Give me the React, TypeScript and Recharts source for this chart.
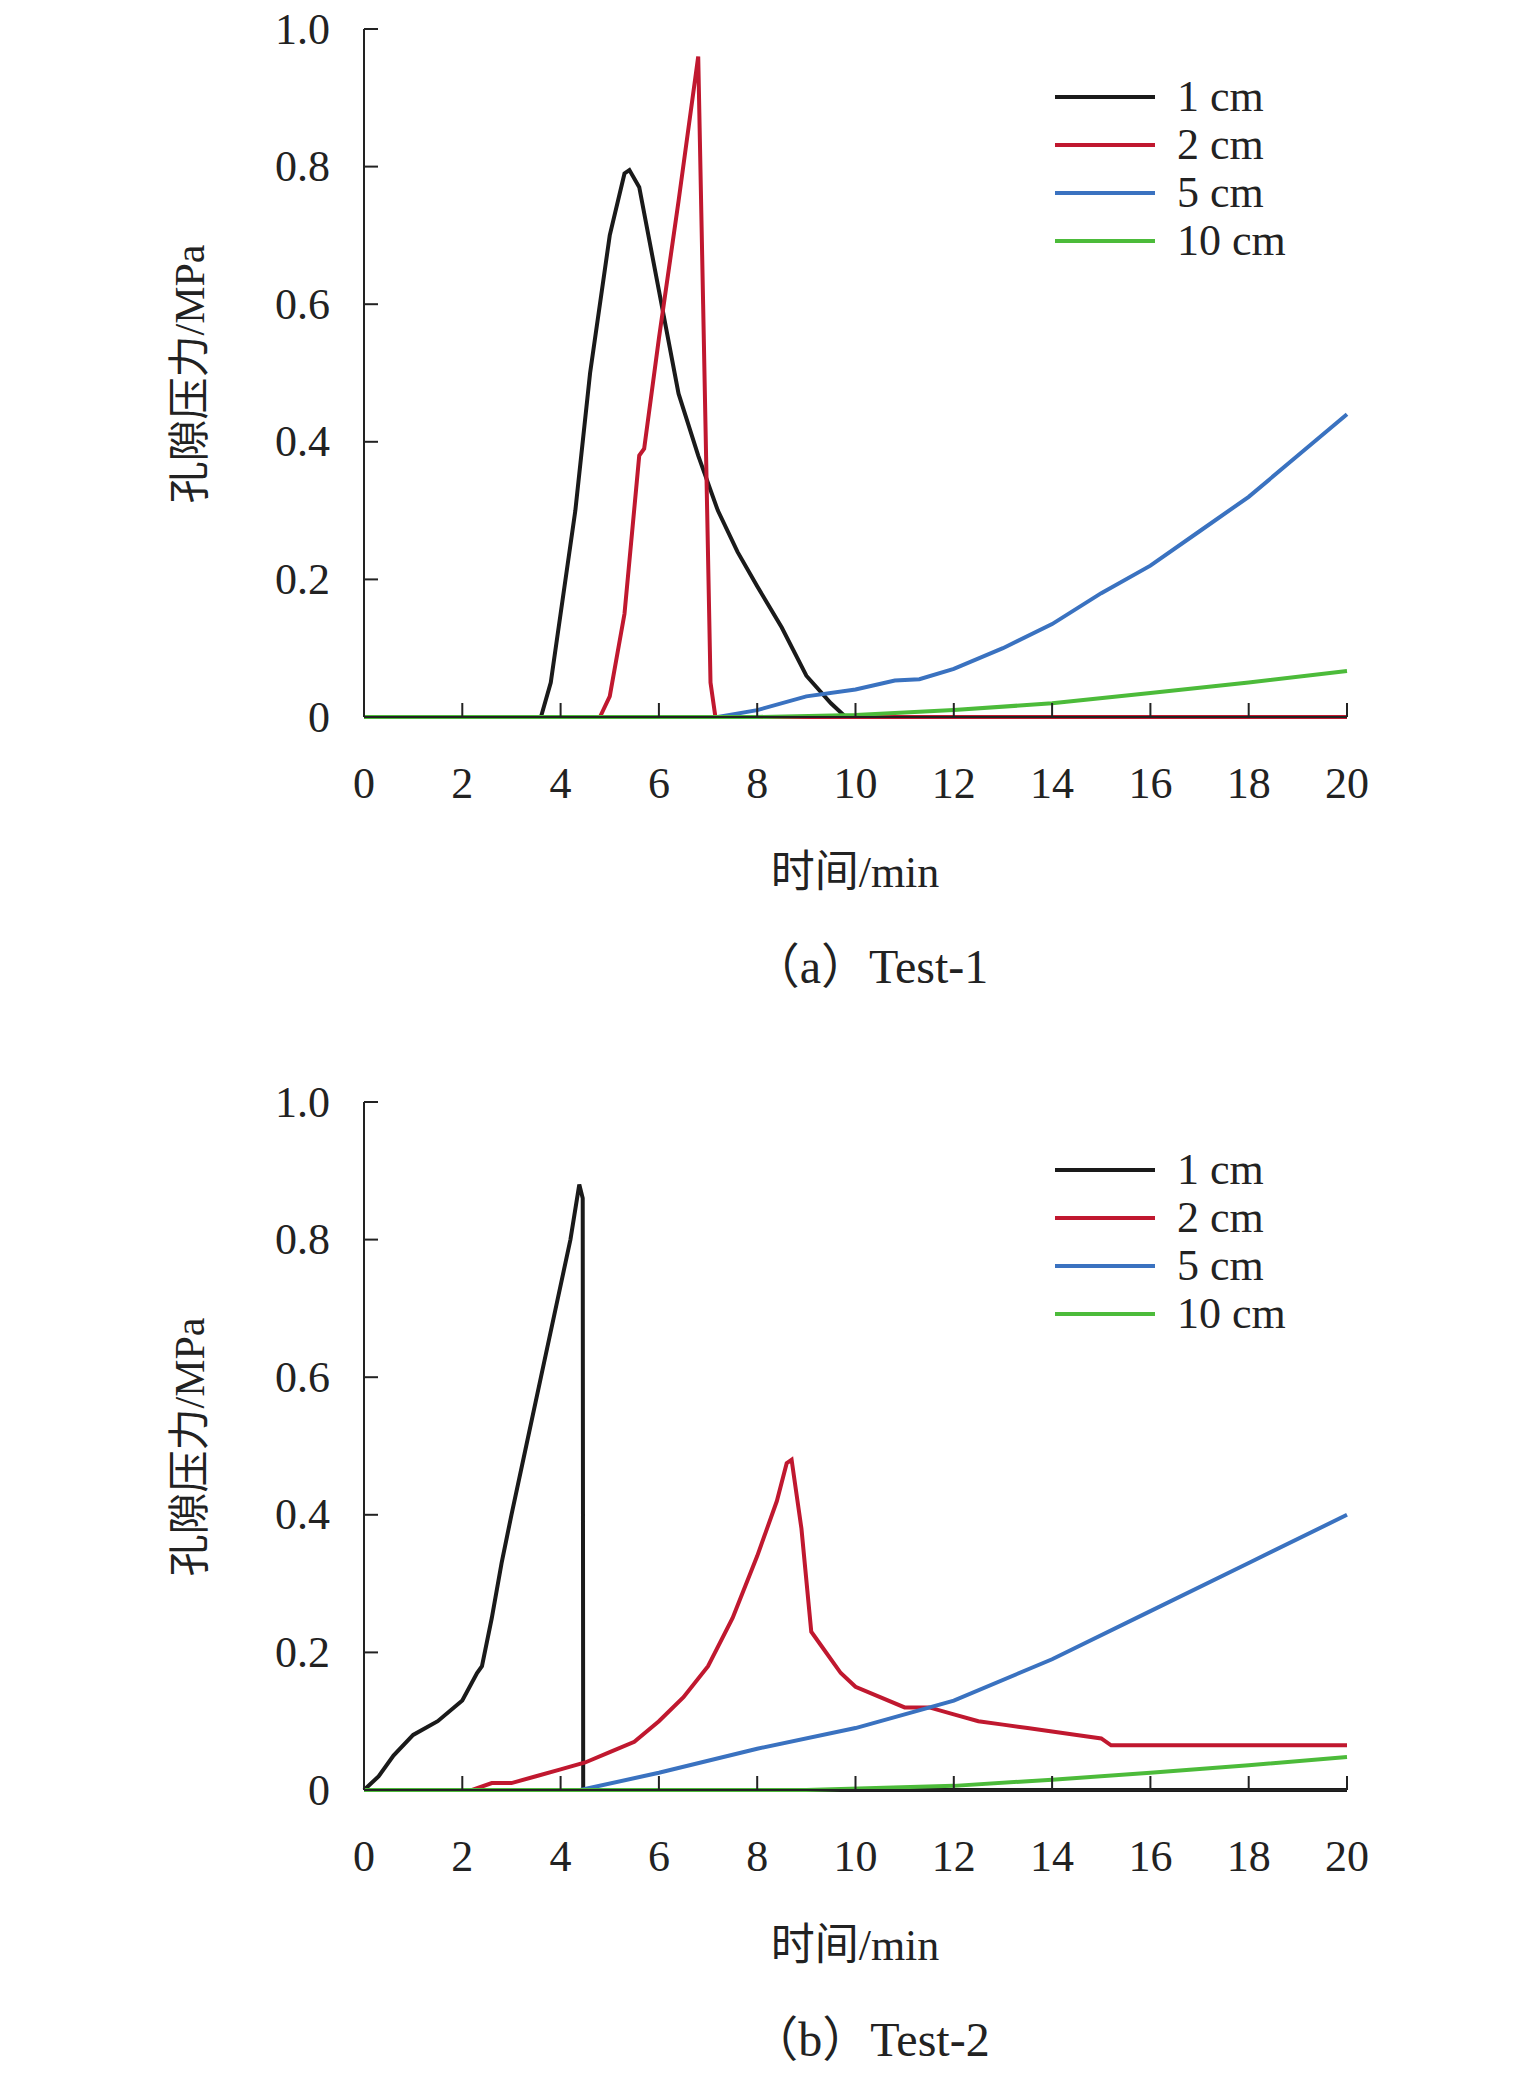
import React from "react";
import { LineChart, Line, XAxis, YAxis } from "recharts";

type P = { t: number; p: number };
const pts = (a: number[][]): P[] => a.map(([t, p]) => ({ t, p }));

const X_TICKS = [0, 2, 4, 6, 8, 10, 12, 14, 16, 18, 20];
const Y_TICKS = [0, 0.2, 0.4, 0.6, 0.8, 1.0];
const SERIES_NAMES = ["1 cm", "2 cm", "5 cm", "10 cm"];
const COLORS = ["#1a1a1a", "#c0182f", "#3a72c0", "#4cbb3a"];

const T1_1CM = pts([[0, 0], [3.6, 0], [3.8, 0.05], [4.0, 0.15], [4.3, 0.3], [4.6, 0.5], [5.0, 0.7], [5.3, 0.79], [5.4, 0.795], [5.6, 0.77], [6.0, 0.62], [6.4, 0.47], [6.8, 0.38], [7.2, 0.3], [7.6, 0.24], [8.0, 0.19], [8.5, 0.13], [9.0, 0.06], [9.5, 0.02], [9.8, 0], [20, 0]]);
const T1_2CM = pts([[0, 0], [4.8, 0], [5.0, 0.03], [5.3, 0.15], [5.6, 0.38], [5.7, 0.39], [6.0, 0.55], [6.4, 0.75], [6.8, 0.96], [6.9, 0.6], [7.05, 0.05], [7.15, 0], [20, 0]]);
const T1_5CM = pts([[0, 0], [7.2, 0], [8, 0.01], [9, 0.03], [10, 0.04], [10.8, 0.053], [11.3, 0.055], [12, 0.07], [13, 0.1], [14, 0.135], [15, 0.18], [16, 0.22], [17, 0.27], [18, 0.32], [19, 0.38], [20, 0.44]]);
const T1_10CM = pts([[0, 0], [8, 0], [10, 0.003], [12, 0.01], [14, 0.02], [16, 0.035], [18, 0.05], [20, 0.067]]);

const T2_1CM = pts([[0, 0], [0.3, 0.02], [0.6, 0.05], [1, 0.08], [1.5, 0.1], [2, 0.13], [2.3, 0.17], [2.4, 0.18], [2.6, 0.25], [2.8, 0.33], [3, 0.4], [3.3, 0.5], [3.6, 0.6], [3.9, 0.7], [4.2, 0.8], [4.38, 0.88], [4.45, 0.86], [4.46, 0], [20, 0]]);
const T2_2CM = pts([[0, 0], [2.2, 0], [2.6, 0.01], [3, 0.01], [3.5, 0.02], [4, 0.03], [4.5, 0.04], [5, 0.055], [5.5, 0.07], [6, 0.1], [6.5, 0.135], [7, 0.18], [7.5, 0.25], [8, 0.34], [8.4, 0.42], [8.6, 0.475], [8.7, 0.48], [8.9, 0.38], [9.1, 0.23], [9.3, 0.21], [9.7, 0.17], [10, 0.15], [10.5, 0.135], [11, 0.12], [11.5, 0.12], [12, 0.11], [12.5, 0.1], [13, 0.095], [13.5, 0.09], [14, 0.085], [14.5, 0.08], [15, 0.075], [15.2, 0.065], [20, 0.065]]);
const T2_5CM = pts([[0, 0], [4.4, 0], [6, 0.025], [8, 0.06], [10, 0.09], [12, 0.13], [14, 0.19], [16, 0.26], [18, 0.33], [20, 0.4]]);
const T2_10CM = pts([[0, 0], [9, 0], [12, 0.006], [14, 0.015], [16, 0.025], [18, 0.036], [20, 0.048]]);

const FONT = "'Liberation Serif', 'Times New Roman', 'Noto Sans CJK SC', serif";

const XTick = (props: any) => {
  const { x, y, payload } = props;
  return (
    <g>
      <line x1={x} x2={x} y1={y} y2={y - 14} stroke="#222" strokeWidth={2} />
      <text x={x} y={y + 66} textAnchor="middle" dominantBaseline="central" fontSize={44} fontFamily={FONT} fill="#222">
        {payload.value}
      </text>
    </g>
  );
};

const YTick = (props: any) => {
  const { x, y, payload } = props;
  const v = payload.value === 0 ? "0" : Number(payload.value).toFixed(1);
  return (
    <g>
      <line x1={x} x2={x + 14} y1={y} y2={y} stroke="#222" strokeWidth={2} />
      <text x={x - 34} y={y} textAnchor="end" dominantBaseline="central" fontSize={44} fontFamily={FONT} fill="#222">
        {v}
      </text>
    </g>
  );
};

function Panel({ series, top, marginTop, caption }: { series: P[][]; top: number; marginTop: number; caption: string }) {
  const H = 1038;
  const plotBottom = H - 321 + (marginTop - 29);
  const AXH = 40;
  return (
    <div style={{ position: "absolute", left: 0, top, width: 1535, height: H }}>
      <LineChart width={1535} height={H} margin={{ top: marginTop, right: 188, bottom: H - plotBottom - AXH, left: 0 }}>
        <XAxis dataKey="t" type="number" domain={[0, 20]} ticks={X_TICKS} interval={0} tick={<XTick />} tickLine={false} tickSize={0} tickMargin={0} stroke="#222" strokeWidth={2} height={AXH} />
        <YAxis type="number" domain={[0, 1]} ticks={Y_TICKS} interval={0} tick={<YTick />} tickLine={false} tickSize={0} tickMargin={0} stroke="#222" strokeWidth={2} width={364} />
        {series.map((d, i) => (
          <Line key={i} data={d} dataKey="p" stroke={COLORS[i]} strokeWidth={4} dot={false} isAnimationActive={false} type="linear" />
        ))}
      </LineChart>
      <div style={{ position: "absolute", left: 185, top: marginTop + 345, transform: "translate(-50%,-50%) rotate(-90deg)", whiteSpace: "nowrap", fontSize: 42, fontFamily: FONT, color: "#222" }}>
        孔隙压力/MPa
      </div>
      <div style={{ position: "absolute", left: 855, top: plotBottom + 151, transform: "translate(-50%,-50%)", whiteSpace: "nowrap", fontSize: 44, fontFamily: FONT, color: "#222" }}>
        时间/min
      </div>
      <div style={{ position: "absolute", left: 870, top: plotBottom + 245, transform: "translate(-50%,-50%)", whiteSpace: "nowrap", fontSize: 48, fontFamily: FONT, color: "#222" }}>
        {caption}
      </div>
      {SERIES_NAMES.map((n, i) => (
        <div key={n} style={{ position: "absolute", left: 1055, top: marginTop + 68 + i * 48, display: "flex", alignItems: "center", transform: "translateY(-50%)" }}>
          <div style={{ width: 100, height: 4, background: COLORS[i] }} />
          <span style={{ marginLeft: 22, fontSize: 44, fontFamily: FONT, color: "#222", lineHeight: 1 }}>{n}</span>
        </div>
      ))}
    </div>
  );
}

export default function App() {
  return (
    <div style={{ position: "absolute", left: 0, top: 0, width: 1535, height: 2076, background: "#fff" }}>
      <Panel series={[T1_1CM, T1_2CM, T1_5CM, T1_10CM]} top={0} marginTop={29} caption="（a）Test-1" />
      <Panel series={[T2_1CM, T2_2CM, T2_5CM, T2_10CM]} top={1038} marginTop={64} caption="（b）Test-2" />
    </div>
  );
}
